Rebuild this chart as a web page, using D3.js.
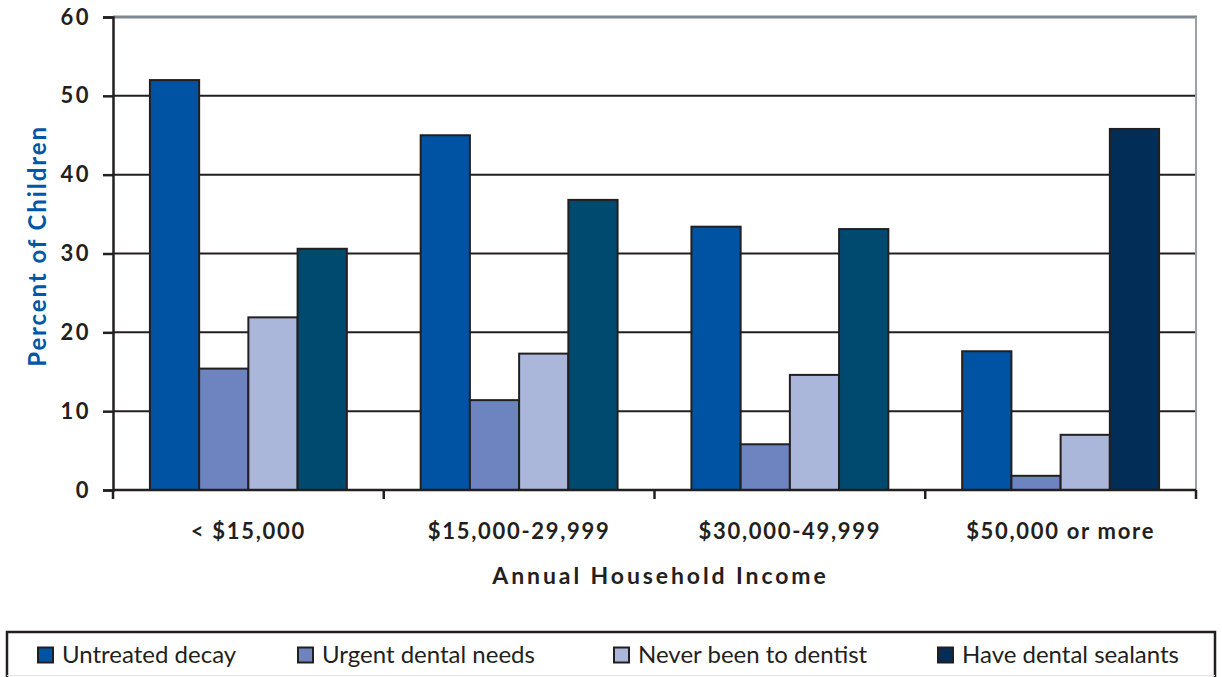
<!DOCTYPE html>
<html>
<head>
<meta charset="utf-8">
<script src="https://cdn.jsdelivr.net/npm/d3@7/dist/d3.min.js"></script>
<style>
  html, body { margin: 0; padding: 0; background: #fff; }
  svg { display: block; }
  text { font-family: Lato, "Open Sans", sans-serif; fill: #231f20; }
</style>
</head>
<body>
<svg id="chart" width="1222" height="677"></svg>
<script>
// Income brackets along the x axis
const categories = ["< $15,000", "$15,000-29,999", "$30,000-49,999", "$50,000 or more"];
// Outcome measures (one bar each per bracket)
const seriesNames = ["Untreated decay", "Urgent dental needs", "Never been to dentist", "Have dental sealants"];
// Percent of children, per series, in bracket order
const untreatedDecay = [52.0, 45.0, 33.4, 17.6];
const urgentNeeds    = [15.4, 11.4, 5.8, 1.8];
const neverDentist   = [21.9, 17.3, 14.6, 7.0];
const sealants       = [30.6, 36.8, 33.1, 45.8];
const yTicks = [0, 10, 20, 30, 40, 50, 60];

const seriesValues = [untreatedDecay, urgentNeeds, neverDentist, sealants];

const colors = ["#0053a2", "#6d84c0", "#aab7db", "#022d56"];
const sealantMidTone = "#004a70";
const ink = "#231f20";

const svg = d3.select("#chart");
const plotLeft = 113, plotRight = 1196, plotTop = 17, plotBottom = 490;

const x0 = d3.scaleBand().domain(categories).range([plotLeft, plotRight]).paddingInner(0).paddingOuter(0);
const x1 = d3.scaleBand().domain(seriesNames).range([0, x0.bandwidth()]).paddingInner(0).paddingOuter(0.75);
const y = d3.scaleLinear().domain([0, 60]).range([plotBottom, plotTop]);

// Horizontal grid lines
svg.append("g").selectAll("line")
  .data(yTicks.filter(t => t > 0 && t < 60))
  .join("line")
  .attr("x1", plotLeft).attr("x2", plotRight)
  .attr("y1", d => y(d)).attr("y2", d => y(d))
  .attr("stroke", ink).attr("stroke-width", 2);

// Top edge and right edge of the plot frame
svg.append("line").attr("x1", plotLeft).attr("x2", plotRight + 1)
  .attr("y1", y(60)).attr("y2", y(60))
  .attr("stroke", "#7e8890").attr("stroke-width", 3);
svg.append("line").attr("x1", plotRight).attr("x2", plotRight)
  .attr("y1", y(60)).attr("y2", plotBottom)
  .attr("stroke", "#99a2a9").attr("stroke-width", 2);

// Bars
const rows = categories.map((c, i) => ({
  cat: c,
  vals: seriesNames.map((s, j) => ({ s, j, i, v: seriesValues[j][i] }))
}));

svg.append("g").selectAll("g")
  .data(rows)
  .join("g")
  .attr("transform", d => `translate(${x0(d.cat)},0)`)
  .selectAll("rect")
  .data(d => d.vals)
  .join("rect")
  .attr("x", d => x1(d.s))
  .attr("width", x1.bandwidth())
  .attr("y", d => y(d.v))
  .attr("height", d => y(0) - y(d.v))
  .attr("fill", d => (d.j === 3 && d.i < 3) ? sealantMidTone : colors[d.j])
  .attr("stroke", ink).attr("stroke-width", 2);

// Y axis
const yAxis = d3.axisLeft(y).tickValues(yTicks).tickSize(10).tickPadding(12).tickFormat(d3.format("d"));
const gy = svg.append("g").attr("transform", `translate(${plotLeft},0)`).call(yAxis);
gy.select(".domain").attr("stroke", ink).attr("stroke-width", 2.5);
gy.selectAll(".tick line").attr("stroke", ink).attr("stroke-width", 2.5);
gy.selectAll(".tick text")
  .style("font-family", "Lato, sans-serif").style("font-weight", 700)
  .style("font-size", "22px").style("letter-spacing", "2.5px").attr("fill", ink);

// X axis with ticks at group boundaries
const gx = svg.append("g").attr("transform", `translate(0,${plotBottom})`);
gx.append("line").attr("x1", plotLeft).attr("x2", plotRight).attr("stroke", ink).attr("stroke-width", 2.5);
const bounds = categories.map(c => x0(c)).concat([x0(categories[categories.length - 1]) + x0.bandwidth()]);
gx.selectAll("line.tk").data(bounds).join("line").attr("class", "tk")
  .attr("x1", d => d).attr("x2", d => d).attr("y1", 0).attr("y2", 9)
  .attr("stroke", ink).attr("stroke-width", 2.5);
gx.selectAll("text").data(categories).join("text")
  .attr("x", d => x0(d) + x0.bandwidth() / 2)
  .attr("y", 49)
  .attr("text-anchor", "middle")
  .style("font-weight", 700).style("font-size", "22px").style("letter-spacing", "1.7px")
  .text(d => d);

// Axis titles
svg.append("text")
  .attr("transform", `translate(46,246) rotate(-90)`)
  .attr("text-anchor", "middle")
  .style("font-weight", 700).style("font-size", "24px").style("letter-spacing", "1.9px")
  .style("fill", "#0057a6")
  .text("Percent of Children");

svg.append("text")
  .attr("x", (plotLeft + plotRight) / 2 + 6)
  .attr("y", 584)
  .attr("text-anchor", "middle")
  .style("font-weight", 700).style("font-size", "23px").style("letter-spacing", "2.9px")
  .text("Annual Household Income");

// Legend
const lg = svg.append("g");
lg.append("path")
  .attr("d", "M7,677 L7,632 L1215,632 L1215,677")
  .attr("fill", "none").attr("stroke", ink).attr("stroke-width", 2.5);
lg.append("line").attr("x1", 7).attr("x2", 1215).attr("y1", 675.5).attr("y2", 675.5)
  .attr("stroke", "#e4e4e4").attr("stroke-width", 1);
const legendX = [37, 297, 613, 937];
const items = lg.selectAll("g.item").data(seriesNames).join("g").attr("class", "item")
  .attr("transform", (d, i) => `translate(${legendX[i]},0)`);
items.append("rect")
  .attr("x", 1).attr("y", 647.5).attr("width", 15).attr("height", 15)
  .attr("fill", (d, i) => colors[i]).attr("stroke", ink).attr("stroke-width", 2);
items.append("text")
  .attr("x", 25).attr("y", 663)
  .style("font-size", "24px").style("font-weight", 400)
  .text(d => d);
</script>
</body>
</html>
